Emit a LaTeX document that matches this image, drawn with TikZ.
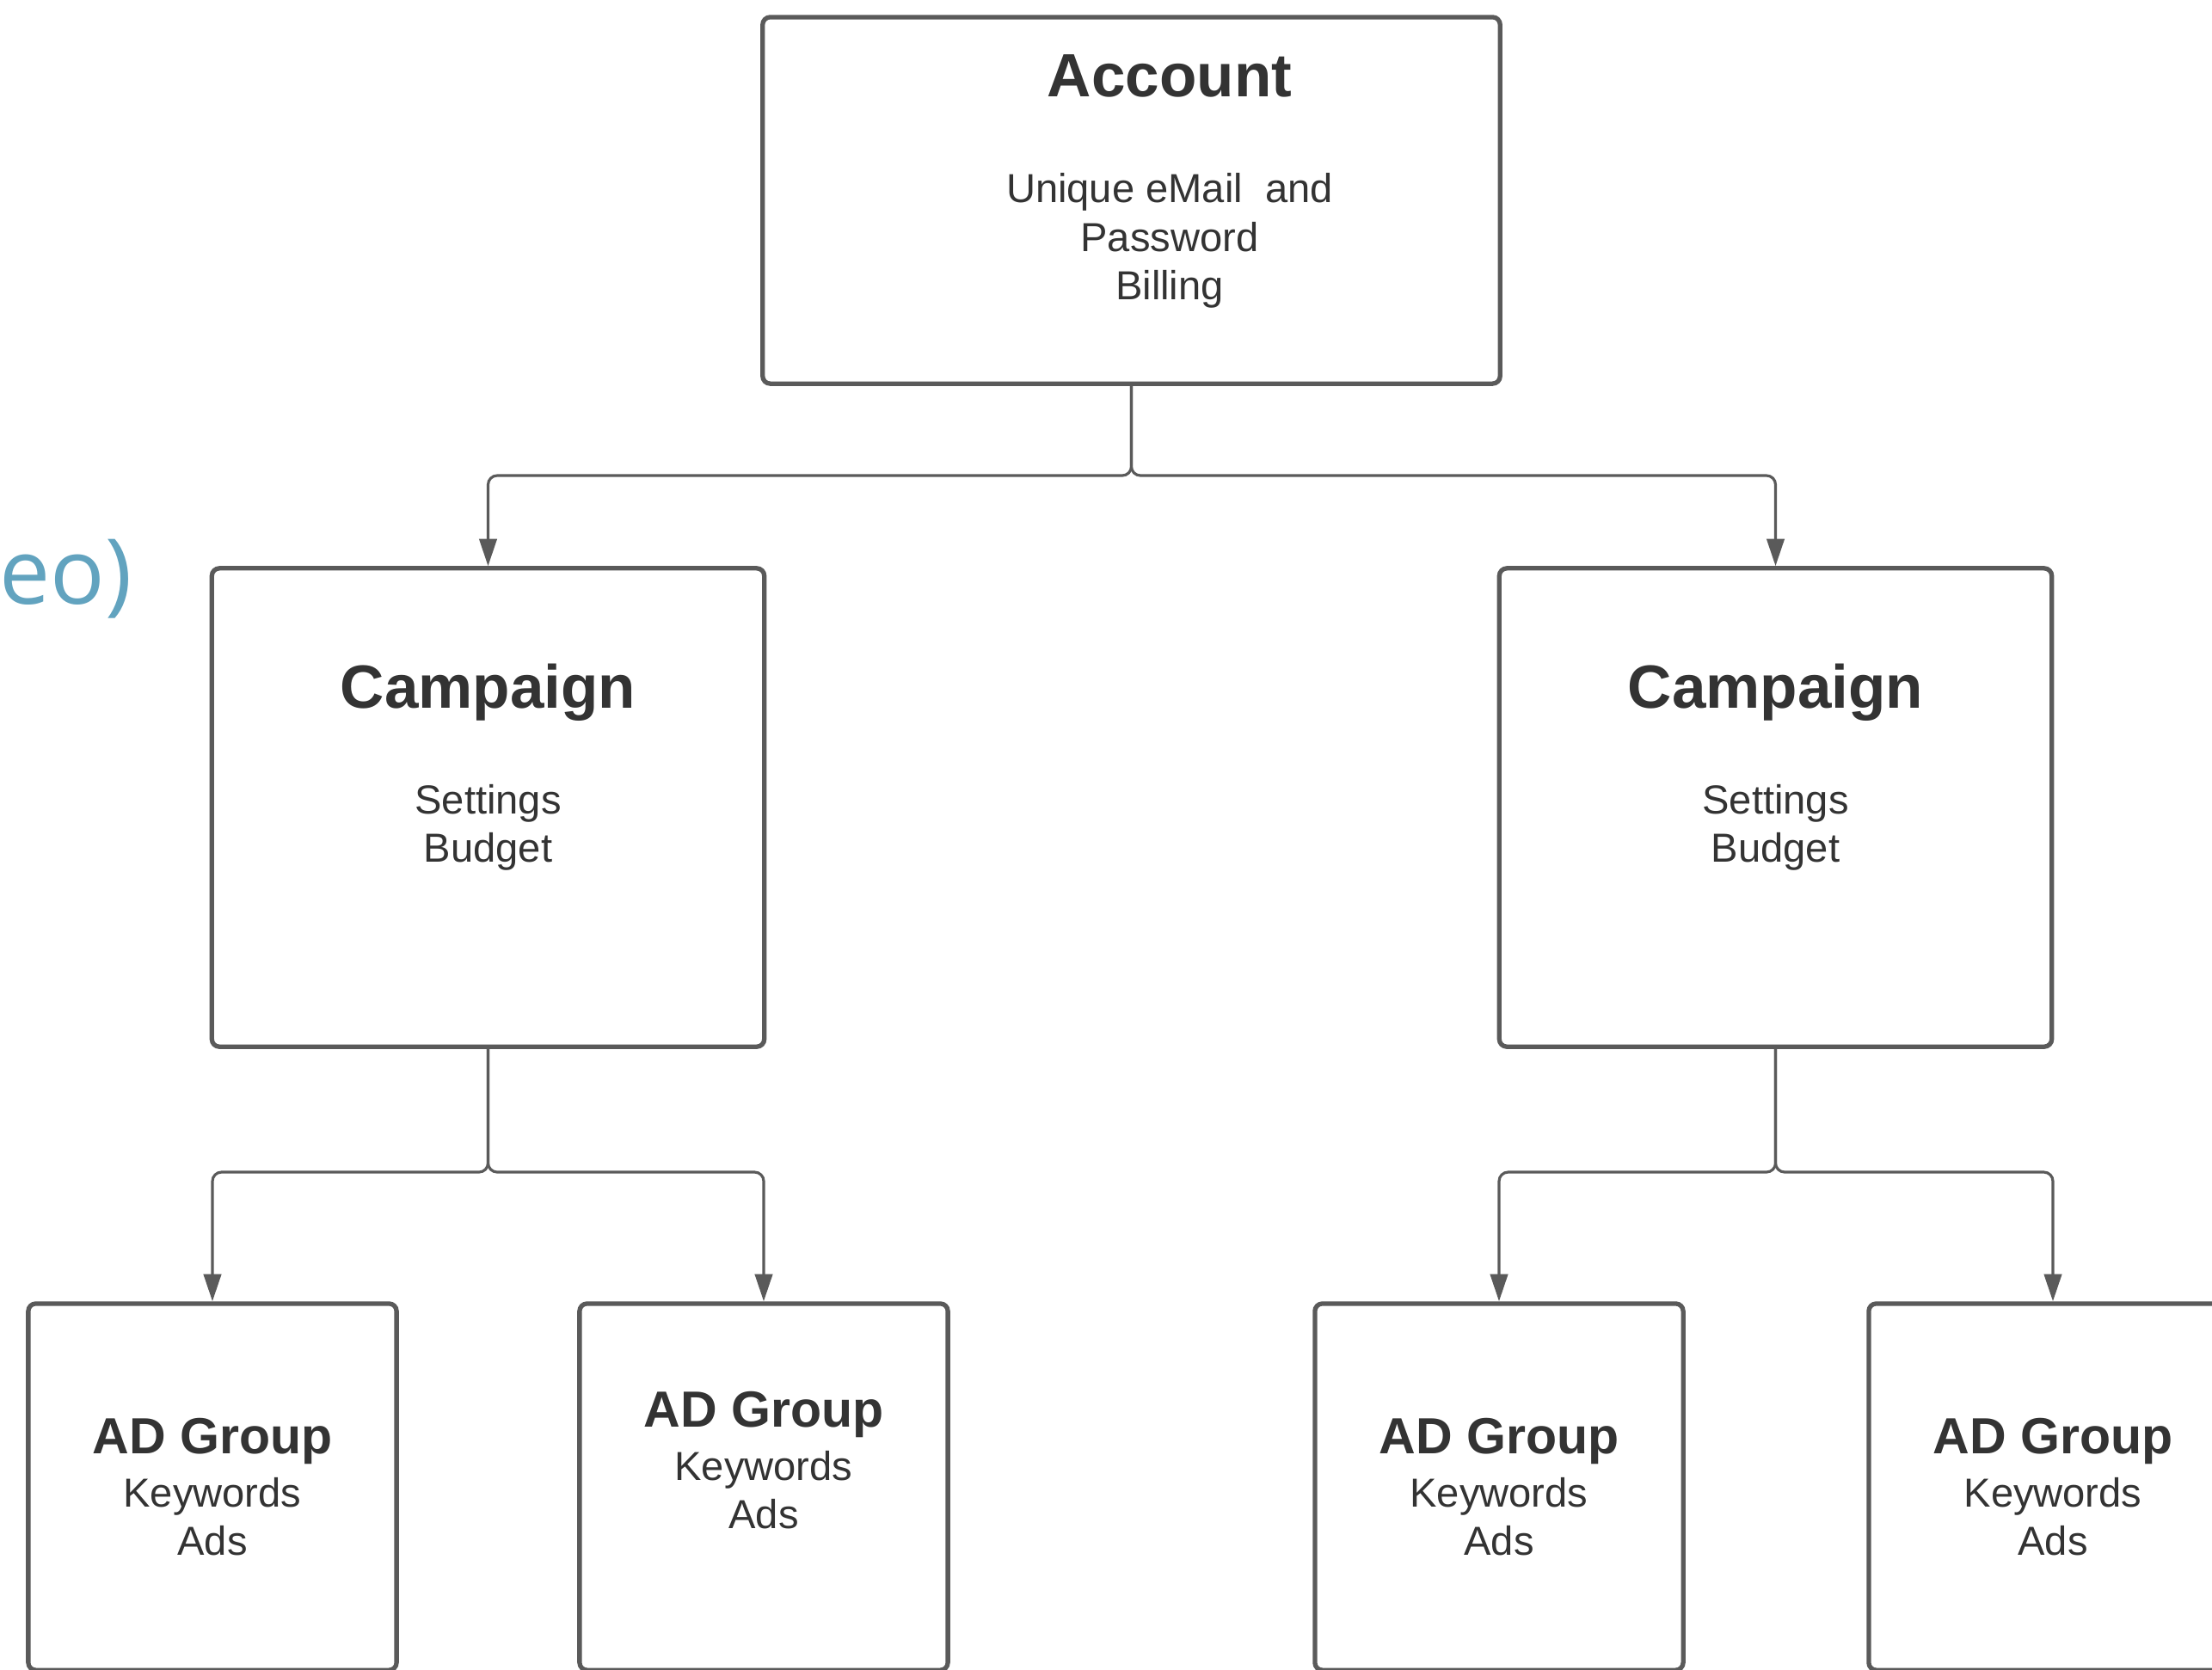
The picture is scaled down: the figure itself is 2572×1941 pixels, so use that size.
\documentclass[tikz,border=0pt]{standalone}
\usepackage{fontspec}
\setmainfont{Liberation Sans}
\newfontfamily\opensans{Open Sans}
\usetikzlibrary{arrows.meta}
\definecolor{linegray}{HTML}{5A5A5A}
\definecolor{txtgray}{HTML}{333333}
\definecolor{capblue}{HTML}{62A3BF}
\begin{document}
\begin{tikzpicture}[x=0.01cm,y=-0.01cm,
  box/.style={draw=linegray,line width=1.5pt,rounded corners=2.5pt,inner sep=0pt,fill=white},
  conn/.style={draw=linegray,line width=0.9pt,rounded corners=3pt,-{Triangle[length=9pt,width=5.8pt]}},
  ttl/.style={anchor=base,text=txtgray,font=\fontsize{20.2}{24}\selectfont\bfseries,inner sep=0pt},
  subttl/.style={anchor=base,text=txtgray,font=\fontsize{16.8}{20}\selectfont\bfseries,inner sep=0pt},
  body/.style={anchor=base,text=txtgray,font=\fontsize{13.4}{16}\selectfont,inner sep=0pt}]
\useasboundingbox (0,0) rectangle (2572,1941);
\clip (0,0) rectangle (2572,1941);

% boxes
\node[box,minimum width=8.57cm,minimum height=4.26cm] (acc) at (1315.5,233) {};
\node[box,minimum width=6.42cm,minimum height=5.56cm] (campL) at (567.5,939) {};
\node[box,minimum width=6.42cm,minimum height=5.56cm] (campR) at (2064.5,939) {};
\node[box,minimum width=4.28cm,minimum height=4.26cm] (ad1) at (247,1729) {};
\node[box,minimum width=4.28cm,minimum height=4.26cm] (ad2) at (888,1729) {};
\node[box,minimum width=4.28cm,minimum height=4.26cm] (ad3) at (1743,1729) {};
\node[box,minimum width=4.28cm,minimum height=4.26cm] (ad4) at (2387,1729) {};

% account text
\node[ttl] (accT) at (1360,112) {Account};
\node[body] (acc1) at (1360,235) {Unique eMail\ \ and};
\node[body] (acc2) at (1360,292) {Password};
\node[body] (acc3) at (1360,348) {Billing};

% campaign text
\node[ttl] (cLT) at (567.5,823) {Campaign};
\node[body] (cL1) at (567.5,946) {Settings};
\node[body] (cL2) at (567.5,1002) {Budget};
\node[ttl] (cRT) at (2064.5,823) {Campaign};
\node[body] (cR1) at (2064.5,946) {Settings};
\node[body] (cR2) at (2064.5,1002) {Budget};

% ad group text
\node[subttl] (a1T) at (247,1690) {AD Group};
\node[body] (a11) at (247,1752) {Keywords};
\node[body] (a12) at (247,1808) {Ads};
\node[subttl] (a2T) at (888,1659) {AD Group};
\node[body] (a21) at (888,1721) {Keywords};
\node[body] (a22) at (888,1777) {Ads};
\node[subttl] (a3T) at (1743,1690) {AD Group};
\node[body] (a31) at (1743,1752) {Keywords};
\node[body] (a32) at (1743,1808) {Ads};
\node[subttl] (a4T) at (2387,1690) {AD Group};
\node[body] (a41) at (2387,1752) {Keywords};
\node[body] (a42) at (2387,1808) {Ads};

% cut-off text at left
\node[anchor=base east,text=capblue,font=\opensans\fontsize{30}{36}\selectfont,inner sep=0pt] (cut) at (154,702) {eo)};

% connectors
\coordinate (jA) at (1315.5,553);
\draw[conn] (acc.south) -- (jA) -| (campL.north);
\draw[conn] (acc.south) -- (jA) -| (campR.north);
\coordinate (jL) at (567.5,1363);
\draw[conn] (campL.south) -- (jL) -| (ad1.north);
\draw[conn] (campL.south) -- (jL) -| (ad2.north);
\coordinate (jR) at (2064.5,1363);
\draw[conn] (campR.south) -- (jR) -| (ad3.north);
\draw[conn] (campR.south) -- (jR) -| (ad4.north);
\end{tikzpicture}
\end{document}
